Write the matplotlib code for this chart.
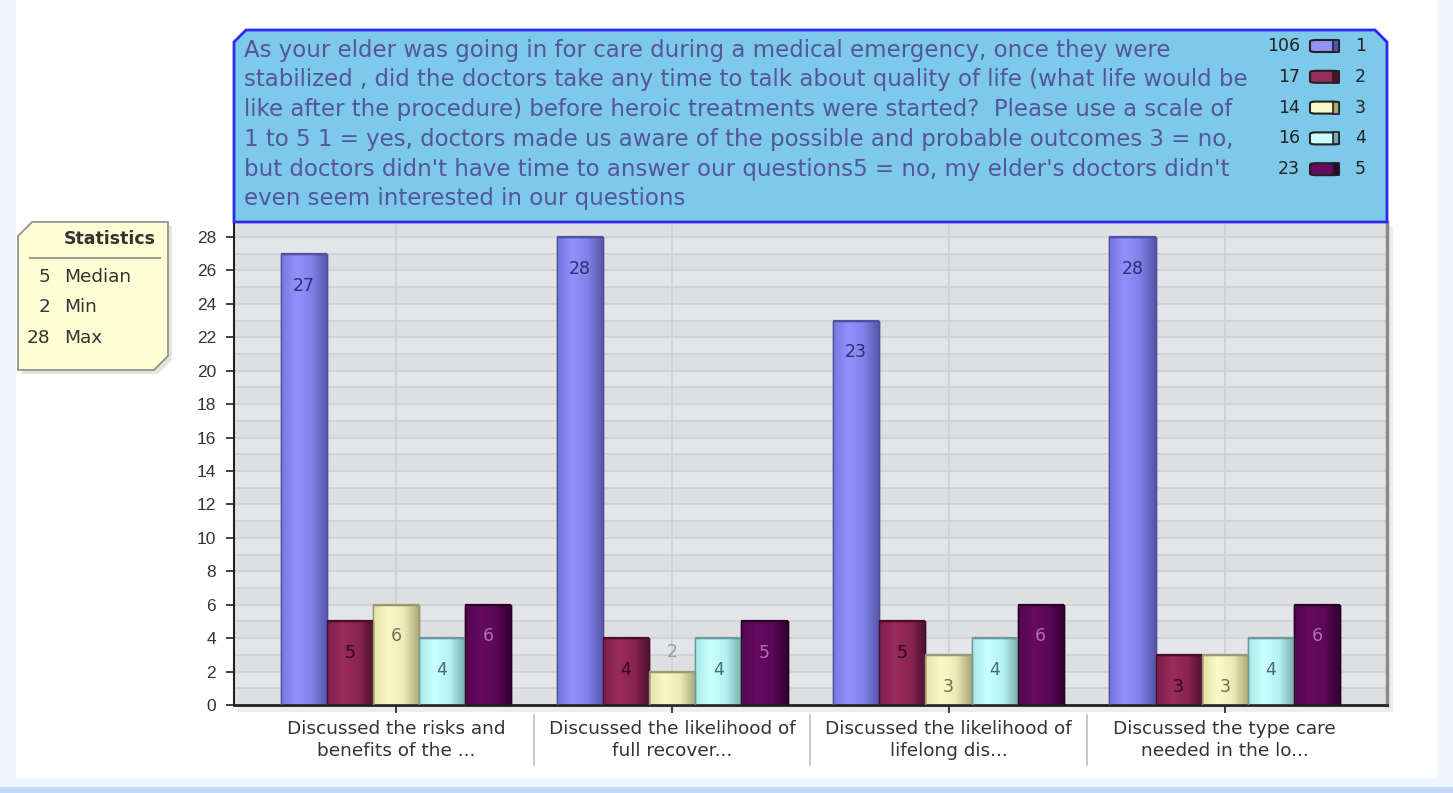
import numpy as np
import matplotlib
matplotlib.use("Agg")
import matplotlib.pyplot as plt
from matplotlib.patches import Polygon, Rectangle, FancyBboxPatch
from matplotlib.colors import LinearSegmentedColormap

# ---------------- data ----------------
categories = [
    "Discussed the risks and\nbenefits of the ...",
    "Discussed the likelihood of\nfull recover...",
    "Discussed the likelihood of\nlifelong dis...",
    "Discussed the type care\nneeded in the lo...",
]
series_names = ["1", "2", "3", "4", "5"]
series_totals = [106, 17, 14, 16, 23]
values = {
    "1": [27, 28, 23, 28],
    "2": [5, 4, 5, 3],
    "3": [6, 2, 3, 3],
    "4": [4, 4, 4, 4],
    "5": [6, 5, 6, 6],
}
title_lines = [
    "As your elder was going in for care during a medical emergency, once they were",
    "stabilized , did the doctors take any time to talk about quality of life (what life would be",
    "like after the procedure) before heroic treatments were started?  Please use a scale of",
    "1 to 5 1 = yes, doctors made us aware of the possible and probable outcomes 3 = no,",
    "but doctors didn't have time to answer our questions5 = no, my elder's doctors didn't",
    "even seem interested in our questions",
]
stats_labels = ["Median", "Min", "Max"]
stats_values = [5, 2, 28]
yticks = list(range(0, 29, 2))

# ---------------- style ----------------
W, H = 1453, 793
plt.rcParams['font.family'] = ['DejaVu Sans']
grad = {
    "1": ["#7676dc", "#9292ff", "#8080e8", "#5555a8"],
    "2": ["#7c1c48", "#9a2c5e", "#8a2452", "#4e1030"],
    "3": ["#e4e2a8", "#fafac8", "#eeeab8", "#aaa878"],
    "4": ["#a8e8e8", "#caffff", "#b4f2f2", "#78acac"],
    "5": ["#520650", "#660a62", "#5a0858", "#34002f"],
}
edge = {"1": "#5050a0", "2": "#4a0c28", "3": "#9a9870", "4": "#6a9a9a", "5": "#2a0028"}
lblc = {"1": "#2e2e70", "2": "#36081c", "3": "#70705a", "4": "#4a6c6c", "5": "#b070b0"}

fig = plt.figure(figsize=(W / 100, H / 100), dpi=100)
fig.patch.set_facecolor("#f0f6ff")

def fx(x):
    return x / W

def fy(y):
    return 1 - y / H

# white panel and bottom strip
fig.patches.append(Rectangle((fx(16), fy(778)), fx(1437 - 16), 778 / H,
                             transform=fig.transFigure, facecolor="white", edgecolor="none", zorder=-2))
fig.patches.append(Rectangle((0, 0), 1, 6 / H, transform=fig.transFigure,
                             facecolor="#c2d8f4", edgecolor="none", zorder=-2))
# panel shadow
fig.patches.append(Rectangle((fx(238), fy(712)), fx(1393 - 238), (712 - 226) / H,
                             transform=fig.transFigure, facecolor="#ededed", edgecolor="none", zorder=-1))

ax = fig.add_axes([fx(234), fy(705), fx(1387 - 234), (705 - 222) / H])
ax.set_zorder(1)
ax.set_facecolor("#e3e5e8")

# alternating bands + gridlines
for k in range(0, 29, 2):
    ax.axhspan(k, k + 1, color="#dedfe1", zorder=0, lw=0)
ax.set_yticks(yticks)
ax.set_yticks(range(0, 29), minor=True)
ax.tick_params(axis='y', which='minor', length=0)
ax.grid(True, which='both', axis='y', color="#cfd0d2", lw=1.2, zorder=0.5)
ax.set_xticks(range(len(categories)))
ax.grid(True, axis='x', color="#cfd0d2", lw=1.2, zorder=0.5)
ax.set_axisbelow(True)

bw = 0.167
x = np.arange(len(categories))
for i, s in enumerate(series_names):
    cmap = LinearSegmentedColormap.from_list("c" + s, grad[s])
    g = np.linspace(0, 1, 64).reshape(1, -1)
    xs = x + (i - 2) * bw
    bars = ax.bar(xs, values[s], width=bw, color=grad[s][2], edgecolor=edge[s], lw=1.0, zorder=2)
    for b, v in zip(bars, values[s]):
        x0 = b.get_x()
        im = ax.imshow(g, cmap=cmap, aspect='auto', extent=[x0, x0 + bw, 0, v],
                       zorder=2.5, interpolation='bilinear')
        im.set_clip_path(b)
        ax.add_patch(Rectangle((x0, 0), bw, v, fill=False, edgecolor=edge[s], lw=1.0, zorder=3))
        ax.plot([x0, x0 + bw], [v, v], color=edge[s], lw=1.6, zorder=3.1, solid_capstyle='butt')
        if v >= 3:
            ax.text(x0 + bw / 2, v - 1.9, str(v), ha='center', va='center',
                    fontsize=12.5, color=lblc[s], zorder=4)
        else:
            ax.text(x0 + bw / 2, v + 1.2, str(v), ha='center', va='center',
                    fontsize=12.5, color="#999999", zorder=4)
ax.set_xlim(-0.586, 3.587)
ax.set_ylim(0, 28.9)

ax.set_xticklabels(categories, fontsize=13.3, color="#333333", linespacing=1.3)
ax.set_yticklabels([str(t) for t in yticks], fontsize=12.5, color="#333333")
for t in ax.get_yticklabels():
    t.set_fontfamily('Liberation Sans')
ax.tick_params(axis='y', length=6, width=1.2, color="#222222", pad=7)
ax.tick_params(axis='x', length=6, width=1.2, color="#222222", pad=5)
ax.spines["top"].set_visible(False)
ax.spines["left"].set_color("#222222")
ax.spines["left"].set_linewidth(1.5)
ax.spines["bottom"].set_color("#222222")
ax.spines["bottom"].set_linewidth(2)
ax.spines["right"].set_color("#8a8a8a")
ax.spines["right"].set_linewidth(2.5)

# separators between category labels
for k in range(len(categories) - 1):
    ax.plot([k + 0.5, k + 0.5], [-0.02, -0.125], transform=ax.get_xaxis_transform(),
            color="#c0c0c0", lw=1.2, clip_on=False)

# ---------------- title box ----------------
c = 12
tb = [(234, 222), (234, 30 + c), (234 + c, 30), (1387 - c, 30), (1387, 30 + c), (1387, 222)]
fig.patches.append(Polygon([(fx(a), fy(b)) for a, b in tb], closed=True, transform=fig.transFigure,
                           facecolor="#7dc9e9", edgecolor="#2a2af0", lw=2, zorder=5))
for j, line in enumerate(title_lines):
    fig.text(fx(244), fy(50 + j * 29.8), line, fontsize=16.5, color="#55559a",
             ha='left', va='center', zorder=6)

# legend inside title box
for j, (s, tot) in enumerate(zip(series_names, series_totals)):
    yy = 46 + j * 30.8
    fig.text(fx(1300), fy(yy), str(tot), fontsize=12.5, color="#222222", ha='right', va='center', zorder=6)
    fig.patches.append(FancyBboxPatch((fx(1310), fy(yy + 6)), fx(29), 12 / H,
                                      boxstyle="round,pad=0,rounding_size=0.004",
                                      transform=fig.transFigure, mutation_aspect=H / W * 1.0,
                                      facecolor=grad[s][1], edgecolor="#222222", lw=1.5, zorder=6))
    fig.patches.append(Rectangle((fx(1333), fy(yy + 6)), fx(6), 12 / H, transform=fig.transFigure,
                                 facecolor=grad[s][3], edgecolor="#222222", lw=1.2, zorder=6.1))
    fig.text(fx(1355), fy(yy), s, fontsize=12.5, color="#222222", ha='left', va='center', zorder=6)

# ---------------- statistics box ----------------
d = 14
sb = [(18, 222 + d), (18 + d, 222), (168, 222), (168, 370 - d), (168 - d, 370), (18, 370)]
shadow = [(a + 4, b + 4) for a, b in sb]
fig.patches.append(Polygon([(fx(a), fy(b)) for a, b in shadow], closed=True, transform=fig.transFigure,
                           facecolor="#e4e4e4", edgecolor="none", zorder=4))
fig.patches.append(Polygon([(fx(a), fy(b)) for a, b in sb], closed=True, transform=fig.transFigure,
                           facecolor="#ffffd6", edgecolor="#8a8a8a", lw=1.2, zorder=5))
fig.text(fx(110), fy(239), "Statistics", fontsize=12.5, fontweight='bold', color="#333333",
         ha='center', va='center', zorder=6)
fig.lines.append(plt.Line2D([fx(30), fx(160)], [fy(258), fy(258)], transform=fig.transFigure,
                            color="#a0a090", lw=1.5, zorder=6))
for j, (lab, val) in enumerate(zip(stats_labels, stats_values)):
    yy = 277 + j * 30.5
    fig.text(fx(50), fy(yy), str(val), fontsize=13.3, color="#333333", ha='right', va='center', zorder=6)
    fig.text(fx(64), fy(yy), lab, fontsize=13.3, color="#333333", ha='left', va='center', zorder=6)

fig.savefig("out.png", dpi=100, facecolor=fig.get_facecolor())
